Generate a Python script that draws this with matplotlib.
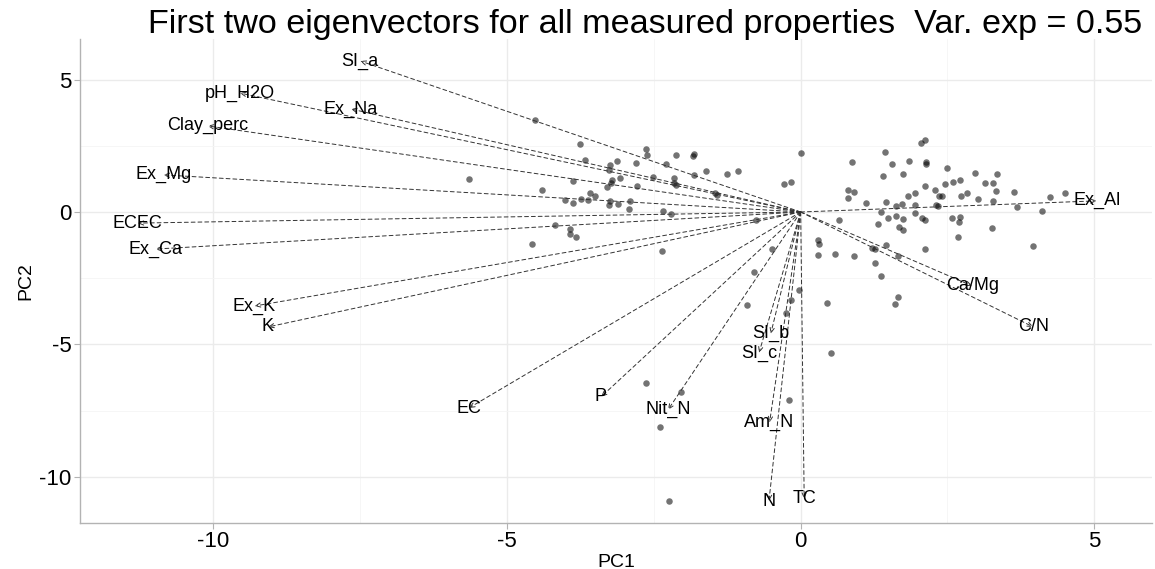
import matplotlib.pyplot as plt
from matplotlib.ticker import MultipleLocator

plt.rcParams['font.family'] = ['Liberation Sans', 'DejaVu Sans']
plt.rcParams['axes.unicode_minus'] = False

# sample scores on the first two components
pc1 = [-4.52, -3.75, -3.68, -3.24, -3.12, -3.26, -3.21, -3.23, -3.29, -5.64,
       -3.87, -4.40, -3.58, -3.51, -4.02, -3.87, -3.74, -3.62, -3.24, -3.26,
       -3.11, -4.18, -3.92, -3.92, -3.82, -4.57,
       -2.63, -2.61, -2.12, -1.82, -1.83, -2.80, -2.29, -1.61, -1.26, -1.07,
       -1.82, -2.51, -2.16, -3.07, -2.78, -2.16, -2.12, -0.29, -0.17, -1.46,
       -1.43, -2.90, -2.92, -2.34, -2.21, -0.76, -2.36, -0.49,
       2.05, 2.12, 0.00, 1.44, 0.87, 1.55, 1.85, 2.14, 2.14, 1.41,
       1.75, 2.12, 2.46, 0.81, 0.90, 0.81, 1.95, 2.29, 1.82, 2.36,
       2.41, 1.12, 1.46, 1.73, 1.63, 1.94, 2.31, 2.34, 1.36, 1.95,
       0.66, 1.31, 1.48, 1.63, 1.75, 2.07, 2.11, 1.68, 1.75, 0.29,
       0.32, 1.46, 1.22, 1.27, 2.11, 0.29, 0.59, 0.90, 1.66, 2.50,
       2.97, 3.34, 2.60, 2.72, 3.14, 3.28, 3.33, 3.63, 2.84, 2.73,
       3.02, 3.28, 4.24, 4.50, 3.68, 4.11, 2.58, 2.72, 2.70, 3.26,
       2.68, 3.96,
       1.26, 1.36, 1.65, 1.60, 0.44, 0.51, -0.80, -0.92, -0.03, -0.17, -0.25,
       -2.63, -2.04, -2.39, -2.24, -0.20]
pc2 = [3.47, 2.57, 1.96, 1.77, 1.92, 1.58, 1.21, 1.09, 0.94, 1.25,
       1.17, 0.83, 0.72, 0.60, 0.45, 0.34, 0.49, 0.45, 0.42, 0.26,
       0.30, -0.49, -0.64, -0.83, -0.94, -1.21,
       2.38, 2.15, 2.15, 2.19, 2.11, 1.85, 1.81, 1.55, 1.43, 1.55,
       1.40, 1.32, 1.28, 1.28, 0.98, 1.09, 1.02, 1.06, 1.13, 0.72,
       0.64, 0.42, 0.11, 0.04, -0.08, -0.30, -1.47, -1.40,
       2.60, 2.72, 2.23, 2.26, 1.89, 1.81, 1.92, 1.89, 1.81, 1.36,
       1.43, 0.98, 1.06, 0.83, 0.75, 0.53, 0.72, 0.83, 0.60, 0.60,
       0.60, 0.34, 0.38, 0.30, 0.23, 0.26, 0.26, 0.23, 0.00, -0.04,
       -0.30, -0.45, -0.23, -0.15, -0.26, -0.23, -0.30, -0.57, -0.68, -1.06,
       -1.21, -1.25, -1.36, -1.40, -1.40, -1.62, -1.58, -1.66, -1.66, 1.66,
       1.47, 1.43, 1.13, 1.21, 1.09, 1.09, 0.79, 0.75, 0.72, 0.60,
       0.49, 0.42, 0.57, 0.72, 0.19, 0.04, -0.23, -0.19, -0.38, -0.60,
       -0.94, -1.28,
       -1.92, -2.42, -3.21, -3.47, -3.43, -5.32, -2.26, -3.51, -2.94, -3.32, -3.81,
       -6.45, -6.79, -8.11, -10.91, -7.09]

# variable loadings (arrow tips)
var_names = ['SI_a', 'pH_H2O', 'Ex_Na', 'Clay_perc', 'Ex_Mg', 'ECEC', 'Ex_Ca',
             'Ex_K', 'K', 'EC', 'P', 'Nit_N', 'SI_b', 'SI_c', 'Am_N', 'N', 'TC',
             'Ca/Mg', 'C/N', 'Ex_Al']
var_pc1 = [-7.50, -9.55, -7.66, -10.10, -10.85, -11.29, -10.99,
           -9.30, -9.07, -5.65, -3.40, -2.26, -0.51, -0.71, -0.53, -0.54, 0.06,
           2.92, 3.96, 5.04]
var_pc2 = [5.70, 4.49, 3.89, 3.25, 1.40, -0.42, -1.40,
           -3.55, -4.34, -7.40, -6.98, -7.47, -4.60, -5.32, -7.95, -10.91, -10.83,
           -2.79, -4.34, 0.42]

fig = plt.figure(figsize=(11.55, 5.69), dpi=100)
ax = fig.add_axes([0.0693, 0.0808, 0.928, 0.8507])

ax.scatter(pc1, pc2, s=22, color='black', alpha=0.55, linewidths=0, zorder=2)

for name, x, y in zip(var_names, var_pc1, var_pc2):
    ax.annotate('', xy=(x, y), xytext=(0, 0),
                arrowprops=dict(arrowstyle='->,head_length=0.35,head_width=0.15',
                                linestyle=(0, (4, 3)), lw=0.7, color='#333333',
                                shrinkA=0, shrinkB=0),
                zorder=3)
    ax.text(x, y, name, ha='center', va='center', fontsize=13, zorder=5)

ax.set_xlim(-12.27, 5.98)
ax.set_ylim(-11.74, 6.53)
ax.xaxis.set_major_locator(MultipleLocator(5))
ax.yaxis.set_major_locator(MultipleLocator(5))
ax.xaxis.set_minor_locator(MultipleLocator(2.5))
ax.yaxis.set_minor_locator(MultipleLocator(2.5))
ax.grid(which='major', color='#ebebeb', lw=1.0)
ax.grid(which='minor', color='#f5f5f5', lw=0.6)
ax.set_axisbelow(True)

for s in ['top', 'right']:
    ax.spines[s].set_visible(False)
for s in ['left', 'bottom']:
    ax.spines[s].set_color('#b3b3b3')
    ax.spines[s].set_linewidth(1.0)

ax.tick_params(which='major', length=4, color='#b3b3b3', labelsize=16, pad=2)
ax.tick_params(which='minor', length=0)

ax.set_xlabel('PC1', fontsize=14, labelpad=1)
ax.set_ylabel('PC2', fontsize=14, labelpad=4)

fig.text(0.128, 1 - 33 / 569, 'First two eigenvectors for all measured properties  Var. exp = 0.55',
         fontsize=24.6, ha='left', va='baseline')

fig.savefig('out.png', dpi=100)
